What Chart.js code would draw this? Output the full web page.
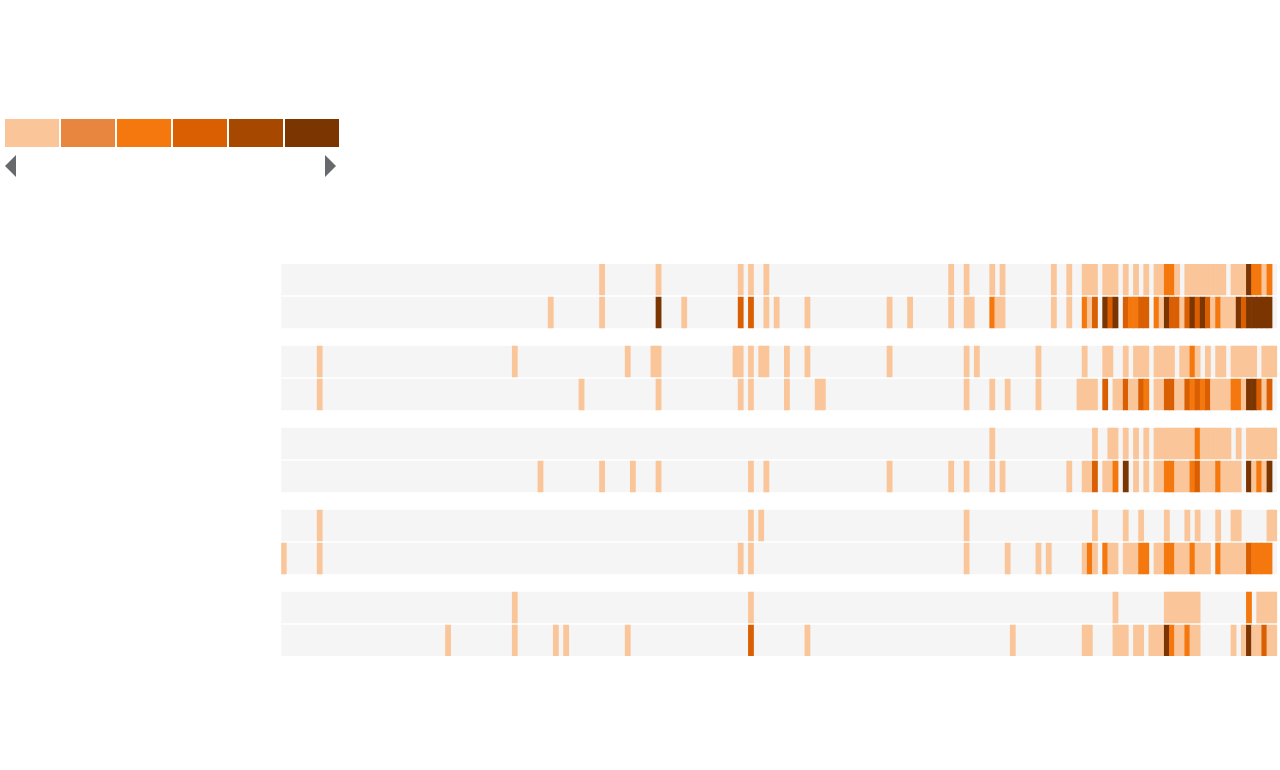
<!DOCTYPE html>
<html lang="en">
<head>
<meta charset="UTF-8">
<title>Weekly strips</title>
<style>
  html, body { margin: 0; padding: 0; background: #fff; }
  body { width: 1280px; height: 770px; position: relative; overflow: hidden; font-family: "Noto Sans", sans-serif; }
  #chart { position: absolute; left: 0; top: 0; }
  #legend { position: absolute; left: 5px; top: 119px; z-index: 2; }
  .swatch { position: absolute; top: 0; width: 54px; height: 28px; }
  .arrow { position: absolute; top: 36px; width: 0; height: 0;
           border-top: 11px solid transparent; border-bottom: 11px solid transparent; }
  .arrow.left { left: 0; border-right: 11px solid #68696d; }
  .arrow.right { left: 320px; border-left: 11px solid #68696d; }
</style>
</head>
<body>
<div id="legend"></div>
<canvas id="chart" width="1280" height="770"></canvas>
<script src="https://cdn.jsdelivr.net/npm/chart.js"></script>
<script>
// number of columns (weeks) in each strip
const weeks = 194;

// colour levels, lightest to darkest
const levelColors = ['#fbc59a', '#e8853f', '#f5780f', '#d95f02', '#a74800', '#7a3500'];

// [week, level] for every non-empty cell
const rowA1 = [[62,1],[73,1],[89,1],[91,1],[94,1],[130,1],[133,1],[138,1],[140,1],[150,1],[153,1],
  [156,1],[157,1],[158,1],[160,1],[161,1],[162,1],[164,1],[166,1],[168,1],[170,1],[171,1],[172,3],[173,3],[174,1],
  [176,1],[177,1],[178,1],[179,1],[180,1],[181,1],[182,1],[183,1],[185,1],[186,1],[187,1],[188,6],[189,3],[190,3],[191,1],[192,3]];
const rowA2 = [[52,1],[62,1],[73,6],[78,1],[89,4],[91,4],[94,1],[96,1],[102,1],[118,1],[122,1],[130,1],[133,1],[134,1],
  [138,3],[139,1],[140,1],[150,1],[153,1],[156,3],[157,1],[158,4],[160,6],[161,4],[162,6],[164,4],[165,3],[166,3],
  [167,4],[168,4],[170,3],[171,1],[172,6],[173,4],[174,4],[175,1],[176,4],[177,6],[178,4],[179,6],[180,4],[181,1],
  [182,3],[183,1],[184,1],[185,1],[186,6],[187,4],[188,6],[189,6],[190,6],[191,6],[192,6]];
const rowB1 = [[7,1],[45,1],[67,1],[72,1],[73,1],[88,1],[89,1],[91,1],[93,1],[94,1],[98,1],[102,1],[118,1],[133,1],[135,1],
  [147,1],[156,1],[160,1],[161,1],[164,1],[166,1],[167,1],[168,1],[170,1],[171,1],[172,1],[173,1],[175,1],[176,1],[177,3],
  [178,1],[180,1],[182,1],[183,1],[185,1],[186,1],[187,1],[188,1],[189,1],[191,1],[192,1],[193,1]];
const rowB2 = [[7,1],[58,1],[73,1],[89,1],[91,1],[98,1],[104,1],[105,1],[133,1],[138,1],[141,1],[147,1],
  [155,1],[156,1],[157,1],[158,1],[160,4],[162,1],[163,1],[164,4],[165,1],[166,1],[167,4],[168,3],[170,1],[171,1],
  [172,4],[173,4],[174,1],[175,1],[176,4],[177,3],[178,4],[179,3],[180,4],[181,1],[182,1],[183,1],[184,1],[185,3],[186,3],
  [187,1],[188,6],[189,6],[190,4],[191,1],[192,4]];
const rowC1 = [[138,1],[158,1],[161,1],[162,1],[164,1],[166,1],[168,1],[170,1],[171,1],[172,1],[173,1],[174,1],[175,1],
  [176,1],[177,1],[178,3],[179,1],[180,1],[181,1],[182,1],[183,1],[184,1],[186,1],[188,1],[189,1],[190,1],[191,1],[192,1],[193,1]];
const rowC2 = [[50,1],[62,1],[68,1],[73,1],[91,1],[94,1],[118,1],[130,1],[133,1],[138,1],[140,1],[153,1],[156,1],[157,1],
  [158,4],[160,1],[161,1],[162,3],[164,6],[166,1],[168,1],[170,1],[171,1],[172,3],[173,3],[174,1],[175,1],[176,1],
  [177,3],[178,4],[179,1],[180,1],[181,1],[182,3],[183,1],[184,1],[185,1],[186,1],[188,6],[189,1],[190,3],[191,1],[192,6]];
const rowD1 = [[7,1],[91,1],[93,1],[133,1],[158,1],[164,1],[167,1],[172,1],[176,1],[178,1],[182,1],[185,1],[186,1],[192,1],[193,1]];
const rowD2 = [[0,1],[7,1],[89,1],[91,1],[133,1],[141,1],[147,1],[149,1],[156,1],[157,3],[158,1],[160,3],[161,1],[162,1],
  [164,1],[165,1],[166,1],[167,3],[168,3],[170,1],[171,1],[172,3],[173,3],[174,1],[175,1],[176,1],[177,3],[178,1],[179,1],
  [180,1],[182,3],[183,1],[184,1],[185,1],[186,1],[187,1],[188,4],[189,3],[190,3],[191,3],[192,3]];
const rowE1 = [[45,1],[91,1],[162,1],[172,1],[173,1],[174,1],[175,1],[176,1],[177,1],[178,1],[188,3],[190,1],[191,1],[192,1],[193,1]];
const rowE2 = [[32,1],[45,1],[53,1],[55,1],[67,1],[91,4],[102,1],[142,1],[156,1],[157,1],[162,1],[163,1],[164,1],[166,1],
  [167,1],[169,1],[170,1],[171,1],[172,6],[173,3],[174,1],[175,1],[176,3],[177,1],[178,1],[185,1],[187,1],[188,6],
  [189,1],[190,1],[191,4],[192,1],[193,1]];

const rows = [rowA1, rowA2, rowB1, rowB2, rowC1, rowC2, rowD1, rowD2, rowE1, rowE2];

// legend
const legend = document.getElementById('legend');
levelColors.forEach((c, i) => {
  const s = document.createElement('div');
  s.className = 'swatch';
  s.style.left = (i * 56) + 'px';
  s.style.background = c;
  legend.appendChild(s);
});
legend.insertAdjacentHTML('beforeend', '<div class="arrow left"></div><div class="arrow right"></div>');

// rows come in pairs, pairs separated by a wider gap
const rowCenter = i => Math.floor(i / 2) * 82 + (i % 2) * 33 + 15.5;

const backgrounds = rows.map((r, i) => ({ x: [0, weeks], y: rowCenter(i) }));
const cells = [];
rows.forEach((r, i) => {
  r.forEach(([w, lvl]) => cells.push({ x: [w, w + 1], y: rowCenter(i), level: lvl }));
});

new Chart(document.getElementById('chart'), {
  type: 'bar',
  data: {
    datasets: [
      // first dataset is painted last, so cells go on top
      { data: cells, backgroundColor: c => c.raw ? levelColors[c.raw.level - 1] : '#fbc59a',
        grouped: false, barThickness: 31, order: 0 },
      { data: backgrounds, backgroundColor: '#f5f5f5', grouped: false, barThickness: 31, order: 1 }
    ]
  },
  options: {
    indexAxis: 'y',
    responsive: false,
    animation: false,
    layout: { padding: { left: 281.2, right: 2.8, top: 264, bottom: 114 } },
    scales: {
      x: { type: 'linear', min: 0, max: weeks, display: false },
      y: { type: 'linear', min: 0, max: 392, reverse: true, offset: false, display: false }
    },
    plugins: { legend: { display: false }, tooltip: { enabled: false } }
  }
});
</script>
</body>
</html>
